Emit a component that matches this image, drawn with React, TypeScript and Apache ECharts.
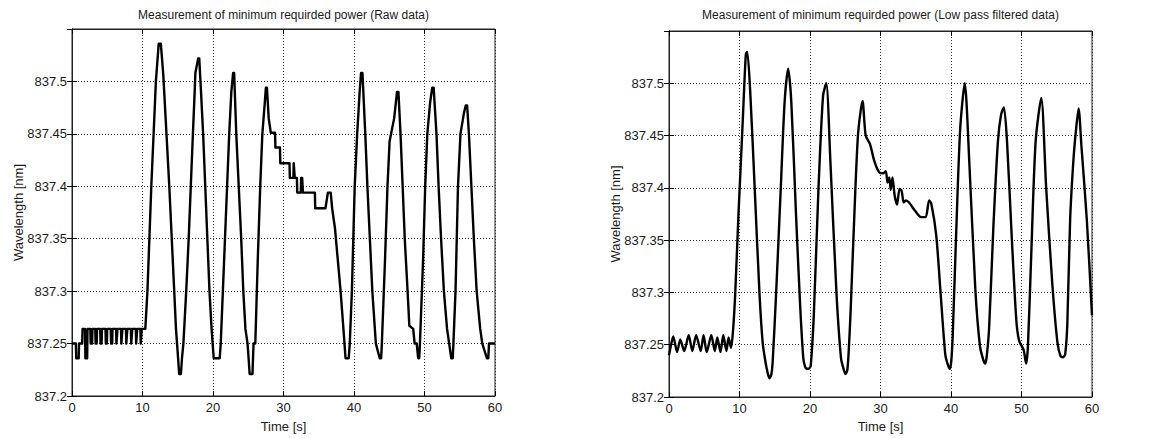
import { useEffect, useRef } from "react";
import * as echarts from "echarts";

// Raw wavelength readings (quantised steps of ~0.0143 nm)
const rawTime = [
  0, 0.55, 0.6, 0.95, 1.0, 1.45, 1.5, 1.85, 1.9, 2.15, 2.2, 2.6, 2.65, 2.85, 2.9, 3.3, 3.35, 3.5, 3.55, 4.0,
  4.05, 4.2, 4.25, 4.75, 4.8, 4.95, 5.0, 5.5, 5.55, 5.7, 5.75, 6.25, 6.3, 6.4, 6.45, 6.95, 7.0, 7.1, 7.15, 7.65,
  7.7, 7.8, 7.85, 8.35, 8.4, 8.5, 8.55, 9.05, 9.1, 9.2, 9.25, 9.7, 9.75, 9.85, 9.9, 10.4,
  10.7, 11.25, 11.9, 12.3, 12.6, 12.95, 13.4, 13.8, 14.15, 14.5, 14.75, 14.9, 15.05, 15.2, 15.45, 15.6, 15.8,
  16.2, 16.55, 16.85, 17.15, 17.4, 17.5, 17.9, 18.05, 18.3, 18.6, 18.9, 19.2, 19.5, 19.8, 20.1, 20.95, 21.1,
  21.4, 21.7, 22.0, 22.3, 22.6, 22.85, 23.0, 23.3, 23.65, 24.0, 24.3, 24.6, 24.9, 25.05, 25.2, 25.6, 25.75,
  26.0, 26.35, 26.7, 27.0, 27.35, 27.5, 27.65, 27.9, 28.2, 28.8, 28.85, 29.5, 29.55, 30.85, 30.9, 31.4, 31.45,
  31.55, 31.6, 31.9, 31.95, 32.45, 32.5, 32.65, 32.75, 34.45, 34.5, 35.95, 36.3, 36.7, 36.9, 37.3, 37.7, 38.1,
  38.5, 38.8, 39.25, 39.4, 39.7, 40.1, 40.45, 40.8, 41.0, 41.2, 41.6, 41.9, 42.25, 42.6, 43.1, 43.65, 43.85,
  43.95, 44.4, 44.75, 45.05, 45.7, 46.1, 46.3, 46.6, 46.9, 47.2, 47.6, 47.85, 48.4, 48.6, 48.9, 49.1, 49.25,
  49.35, 49.8, 50.1, 50.4, 50.8, 51.1, 51.3, 51.7, 52.0, 52.35, 52.75, 53.2, 53.5, 53.8, 54.0, 54.1, 54.4,
  54.75, 55.1, 55.6, 55.85, 56.05, 56.3, 56.65, 57.0, 57.4, 57.9, 58.2, 58.85, 59.05, 59.15, 60,
];
const rawWavelength = [
  837.25, 837.25, 837.236, 837.236, 837.25, 837.25, 837.264, 837.264, 837.236, 837.236, 837.264, 837.264,
  837.25, 837.25, 837.264, 837.264, 837.25, 837.25, 837.264, 837.264, 837.25, 837.25, 837.264, 837.264,
  837.25, 837.25, 837.264, 837.264, 837.25, 837.25, 837.264, 837.264, 837.25, 837.25, 837.264, 837.264,
  837.25, 837.25, 837.264, 837.264, 837.25, 837.25, 837.264, 837.264, 837.25, 837.25, 837.264, 837.264,
  837.25, 837.25, 837.264, 837.264, 837.25, 837.25, 837.264, 837.264,
  837.3, 837.4, 837.5, 837.536, 837.536, 837.506, 837.45, 837.4, 837.35, 837.3, 837.264, 837.25, 837.236,
  837.221, 837.221, 837.236, 837.25,
  837.3, 837.35, 837.4, 837.45, 837.49, 837.508, 837.522, 837.522, 837.49, 837.45, 837.4, 837.35, 837.3,
  837.264, 837.236, 837.236, 837.25,
  837.3, 837.35, 837.4, 837.45, 837.49, 837.508, 837.508, 837.45, 837.4, 837.35, 837.3, 837.264, 837.25,
  837.236, 837.221, 837.221, 837.25,
  837.25, 837.33, 837.4, 837.45, 837.48, 837.494, 837.494, 837.465, 837.451, 837.451, 837.437, 837.437,
  837.422, 837.422, 837.408, 837.408, 837.422,
  837.422, 837.408, 837.408, 837.394, 837.394, 837.408, 837.408, 837.394, 837.394, 837.379, 837.379,
  837.394, 837.394, 837.379, 837.36, 837.33, 837.3,
  837.264, 837.236, 837.236, 837.25, 837.3, 837.4, 837.45, 837.49, 837.508, 837.508, 837.45, 837.4, 837.35,
  837.3, 837.25, 837.236, 837.236,
  837.25, 837.33, 837.4, 837.443, 837.465, 837.49, 837.49, 837.45, 837.4, 837.35, 837.3, 837.267, 837.264,
  837.25, 837.25, 837.236, 837.236,
  837.25, 837.33, 837.4, 837.45, 837.48, 837.494, 837.494, 837.45, 837.4, 837.35, 837.3, 837.264, 837.25,
  837.236, 837.236, 837.25, 837.3,
  837.4, 837.45, 837.47, 837.477, 837.477, 837.45, 837.4, 837.35, 837.3, 837.264, 837.25, 837.236, 837.236,
  837.25, 837.25,
];

// Low pass filtered wavelength
const filteredTime = [
  0, 0.3, 0.6, 1.15, 1.6, 2.15, 2.8, 3.3, 3.85, 4.5, 4.9, 5.35, 6.0, 6.5, 6.85, 7.3, 7.7, 8.15, 8.45, 8.8,
  9.1, 9.4, 9.85, 10.3, 10.5, 10.9, 11.1, 11.55, 12.2, 12.85, 13.3, 13.7, 14.0, 14.25, 14.5, 14.7, 15.2, 15.85,
  16.4, 16.9, 17.35, 18.0, 18.6, 19.05, 19.3, 19.5, 19.8, 20.1, 20.55, 21.2, 21.85, 22.3, 22.9, 23.75, 24.4,
  24.8, 25.05, 25.3, 25.5,
  25.75, 26.15, 26.8, 27.45, 27.9, 28.5, 29.15, 29.8, 30.4, 30.75, 31.0, 31.25, 31.45, 31.7, 32.0, 32.35,
  32.7, 33.0, 33.3, 33.6, 34.05, 34.9, 35.75, 36.4, 36.9, 37.2, 37.9, 38.55, 39.2, 39.6, 39.85, 40.05, 40.25,
  40.7, 41.3, 41.95, 42.6, 43.45, 44.1, 44.6, 44.85, 45.05, 45.4, 46.0, 46.65, 47.1, 47.5, 47.95, 48.6,
  49.25, 49.65, 50.3, 50.65, 50.9, 51.35, 52.0, 52.8, 53.5, 54.35, 55.1, 55.55, 55.9, 56.2, 56.5, 56.9,
  57.4, 57.8, 58.1, 58.5, 59.27, 60,
];
const filteredWavelength = [
  837.24, 837.25, 837.258, 837.243, 837.255, 837.244, 837.259, 837.244, 837.259, 837.244, 837.259, 837.243,
  837.259, 837.244, 837.257, 837.243, 837.259, 837.244, 837.257, 837.247,
  837.265, 837.3, 837.374, 837.44, 837.47, 837.528, 837.53, 837.488, 837.393, 837.297, 837.251, 837.233,
  837.223, 837.218, 837.221, 837.233, 837.3, 837.399,
  837.482, 837.514, 837.482, 837.377, 837.288, 837.237, 837.229, 837.227, 837.227, 837.23, 837.28, 837.399,
  837.488, 837.5, 837.424, 837.3, 837.237,
  837.226, 837.222, 837.226, 837.245,
  837.28, 837.35, 837.45, 837.483, 837.45, 837.442, 837.425, 837.415, 837.414, 837.416, 837.405, 837.41,
  837.398, 837.41, 837.393, 837.384, 837.399, 837.397, 837.386, 837.388, 837.386, 837.378, 837.372, 837.372,
  837.388, 837.385, 837.355, 837.297, 837.24, 837.23, 837.227, 837.235, 837.26,
  837.35, 837.456, 837.5, 837.424, 837.303, 837.249, 837.235, 837.232, 837.238, 837.265, 837.361, 837.444,
  837.47, 837.477, 837.444, 837.355,
  837.275, 837.254, 837.245, 837.232, 837.247, 837.33, 837.444, 837.486, 837.4, 837.31, 837.252, 837.239,
  837.238, 837.241, 837.27, 837.37,
  837.43, 837.46, 837.476, 837.44, 837.369, 837.278,
];

const chartTitles = [
  "Measurement of minimum requirded power (Raw data)",
  "Measurement of minimum requirded power (Low pass filtered data)",
];
const timeAxisName = "Time [s]";
const wavelengthAxisName = "Wavelength [nm]";
const timeRange = [0, 60, 10];
const wavelengthRange = [837.2, 837.55, 0.05];

const FONT = "'Liberation Sans', Arial, Helvetica, sans-serif";
const TEXT = "#1a1a1a";

const panels = [
  { left: 72, top: 29, width: 423, height: 367, time: rawTime, values: rawWavelength, smooth: false },
  { left: 669, top: 31, width: 423, height: 366, time: filteredTime, values: filteredWavelength, smooth: 0.25 },
];

function pairs(t: number[], v: number[]) {
  return t.map((x, i) => [x, v[i]]);
}

export default function App() {
  const ref = useRef<HTMLDivElement>(null);

  useEffect(() => {
    document.body.style.margin = "0";
    if (!ref.current) return;
    const chart = echarts.init(ref.current, undefined, { renderer: "svg" });

    const tick = { show: true, inside: true, length: 5, lineStyle: { color: "#000", width: 1 } };
    const frame = { show: true, lineStyle: { color: "#222", width: 1 } };
    const dotted = { show: true, lineStyle: { color: "#333", width: 1, type: [1, 2] as number[] } };

    const grid: any[] = [];
    const xAxis: any[] = [];
    const yAxis: any[] = [];
    const series: any[] = [];
    const graphic: any[] = [];

    panels.forEach((p, i) => {
      grid.push({
        left: p.left,
        top: p.top,
        width: p.width,
        height: p.height,
        show: true,
        borderColor: "#222",
        borderWidth: 1,
        backgroundColor: "#fff",
      });
      const xBase = {
        type: "value",
        gridIndex: i,
        min: timeRange[0],
        max: timeRange[1],
        interval: timeRange[2],
        axisLine: frame,
        axisTick: tick,
      };
      xAxis.push({
        ...xBase,
        position: "bottom",
        splitLine: dotted,
        axisLabel: { color: TEXT, fontFamily: FONT, fontSize: 13, margin: 5 },
      });
      xAxis.push({ ...xBase, position: "top", splitLine: { show: false }, axisLabel: { show: false } });
      const yBase = {
        type: "value",
        gridIndex: i,
        min: wavelengthRange[0],
        max: wavelengthRange[1],
        interval: wavelengthRange[2],
        axisLine: frame,
        axisTick: tick,
      };
      yAxis.push({
        ...yBase,
        position: "left",
        splitLine: dotted,
        axisLabel: {
          color: TEXT,
          fontFamily: FONT,
          fontSize: 13,
          margin: 5,
          showMaxLabel: false,
          formatter: (v: number) => String(Math.round(v * 100) / 100),
        },
      });
      yAxis.push({ ...yBase, position: "right", splitLine: { show: false }, axisLabel: { show: false } });

      series.push({
        type: "line",
        xAxisIndex: 2 * i,
        yAxisIndex: 2 * i,
        data: pairs(p.time, p.values),
        showSymbol: false,
        symbol: "none",
        smooth: p.smooth,
        lineStyle: { color: "#000", width: 2.4, join: "round" },
        z: 5,
      });

      const cx = p.left + p.width / 2;
      graphic.push({
        type: "text",
        x: cx,
        y: 15,
        style: {
          text: chartTitles[i],
          fill: TEXT,
          font: `12px ${FONT}`,
          textAlign: "center",
          textVerticalAlign: "middle",
        },
      });
      graphic.push({
        type: "text",
        x: cx,
        y: 426,
        style: {
          text: timeAxisName,
          fill: TEXT,
          font: `13px ${FONT}`,
          textAlign: "center",
          textVerticalAlign: "middle",
        },
      });
      graphic.push({
        type: "text",
        x: p.left - 54,
        y: p.top + p.height / 2,
        rotation: Math.PI / 2,
        style: {
          text: wavelengthAxisName,
          fill: TEXT,
          font: `13px ${FONT}`,
          textAlign: "center",
          textVerticalAlign: "middle",
        },
      });
    });

    chart.setOption({
      animation: false,
      backgroundColor: "#fff",
      grid,
      xAxis,
      yAxis,
      series,
      graphic,
    });

    return () => chart.dispose();
  }, []);

  return <div ref={ref} style={{ width: 1152, height: 438 }} />;
}
